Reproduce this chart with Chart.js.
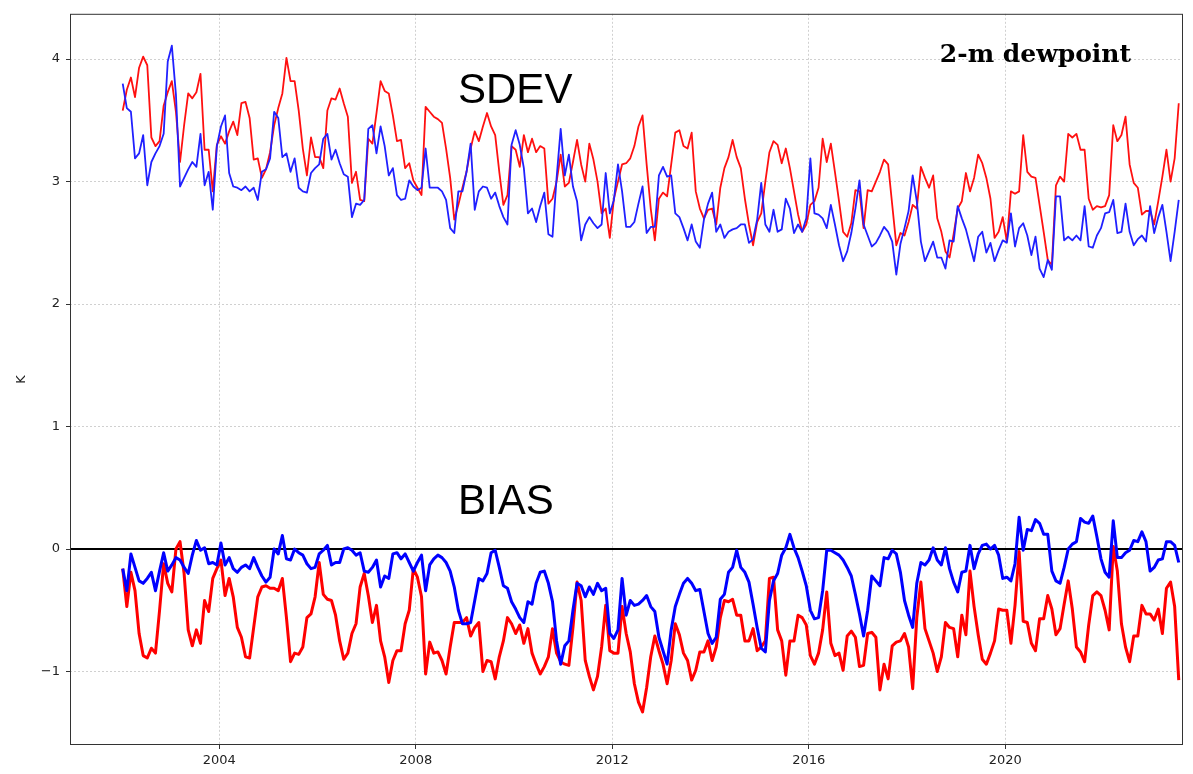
<!DOCTYPE html>
<html lang="en">
<head>
    <meta charset="UTF-8">
    <title>2-m dewpoint SDEV / BIAS</title>
    <script src="https://cdn.jsdelivr.net/npm/chart.js"></script>
    <style>
        body {
            margin: 0;
            background-color: white;
        }
        #chart {
            display: block;
        }
    </style>
</head>
<body>
    <canvas id="chart" width="1193" height="774"></canvas>

    <script>
        // monthly values, first point Jan 2002
        const startYear = 2002;
        const xTicks = [2004, 2008, 2012, 2016, 2020];
        const yTicks = [-1, 0, 1, 2, 3, 4];

        const sdevRed = [
            3.58, 3.75, 3.85, 3.69, 3.93, 4.02, 3.95, 3.36, 3.29, 3.33, 3.62, 3.73,
            3.82, 3.57, 3.16, 3.46, 3.72, 3.68, 3.73, 3.88, 3.26, 3.26, 2.92, 3.30,
            3.37, 3.31, 3.41, 3.49, 3.38, 3.64, 3.65, 3.52, 3.18, 3.19, 3.03, 3.10,
            3.24, 3.46, 3.60, 3.72, 4.01, 3.82, 3.82, 3.58, 3.27, 3.05, 3.36, 3.20,
            3.20, 3.11, 3.58, 3.68, 3.67, 3.76, 3.64, 3.53, 2.99, 3.08, 2.85, 2.84,
            3.35, 3.31, 3.56, 3.82, 3.74, 3.72, 3.54, 3.33, 3.34, 3.11, 3.15, 3.01,
            2.95, 2.89, 3.61, 3.57, 3.53, 3.51, 3.48, 3.27, 3.03, 2.69, 2.81, 2.95,
            3.08, 3.27, 3.41, 3.33, 3.45, 3.56, 3.45, 3.38, 3.08, 2.81, 2.89, 3.29,
            3.26, 3.12, 3.38, 3.24, 3.35, 3.24, 3.29, 3.27, 2.82, 2.86, 3.00, 3.22,
            2.96, 2.99, 3.16, 3.34, 3.14, 3.00, 3.31, 3.18, 3.00, 2.74, 2.78, 2.54,
            2.86, 3.00, 3.14, 3.15, 3.19, 3.29, 3.45, 3.54, 3.14, 2.78, 2.52, 2.86,
            2.91, 2.88, 3.14, 3.40, 3.42, 3.29, 3.27, 3.40, 2.92, 2.78, 2.70, 2.77,
            2.78, 2.65, 2.95, 3.11, 3.20, 3.34, 3.20, 3.11, 2.86, 2.65, 2.48, 2.67,
            2.74, 3.00, 3.24, 3.33, 3.30, 3.15, 3.27, 3.11, 2.92, 2.73, 2.59, 2.65,
            2.81, 2.84, 2.95, 3.35, 3.16, 3.31, 3.08, 2.84, 2.59, 2.55, 2.66, 2.93,
            2.92, 2.62, 2.93, 2.92, 3.00, 3.08, 3.18, 3.14, 2.81, 2.48, 2.58, 2.56,
            2.67, 2.81, 2.78, 3.12, 3.03, 2.95, 3.05, 2.70, 2.59, 2.43, 2.38, 2.57,
            2.78, 2.84, 3.07, 2.92, 3.03, 3.22, 3.15, 3.03, 2.86, 2.54, 2.59, 2.71,
            2.51, 2.92, 2.90, 2.92, 3.38, 3.08, 3.04, 3.03, 2.81, 2.59, 2.36, 2.32,
            2.97, 3.04, 3.00, 3.39, 3.36, 3.39, 3.26, 3.26, 2.86, 2.77, 2.80, 2.79,
            2.80, 2.89, 3.46, 3.33, 3.38, 3.53, 3.14, 2.99, 2.95, 2.73, 2.76, 2.76,
            2.65, 2.84, 3.04, 3.26, 3.00, 3.19, 3.64
        ];

        const sdevBlue = [
            3.80, 3.60, 3.57, 3.19, 3.23, 3.38, 2.97, 3.16, 3.23, 3.29, 3.39, 3.98,
            4.11, 3.71, 2.96, 3.03, 3.10, 3.16, 3.12, 3.39, 2.97, 3.08, 2.77, 3.29,
            3.45, 3.54, 3.07, 2.96, 2.95, 2.93, 2.96, 2.92, 2.95, 2.85, 3.08, 3.10,
            3.19, 3.57, 3.52, 3.20, 3.23, 3.08, 3.19, 2.95, 2.92, 2.91, 3.07, 3.11,
            3.14, 3.35, 3.39, 3.18, 3.26, 3.15, 3.06, 3.04, 2.71, 2.82, 2.81, 2.85,
            3.43, 3.46, 3.23, 3.45, 3.29, 3.05, 3.11, 2.89, 2.85, 2.86, 3.01, 2.96,
            2.93, 2.95, 3.27, 2.95, 2.95, 2.95, 2.92, 2.85, 2.62, 2.58, 2.92, 2.92,
            3.08, 3.31, 2.77, 2.92, 2.96, 2.95, 2.86, 2.91, 2.80, 2.71, 2.65, 3.30,
            3.42, 3.30, 3.11, 2.74, 2.78, 2.67, 2.80, 2.91, 2.57, 2.55, 3.03, 3.43,
            3.05, 3.22, 2.96, 2.84, 2.52, 2.65, 2.71, 2.66, 2.62, 2.65, 3.07, 2.74,
            2.85, 3.14, 2.92, 2.63, 2.63, 2.67, 2.82, 2.96, 2.58, 2.63, 2.63, 3.05,
            3.12, 3.04, 3.05, 2.74, 2.71, 2.62, 2.52, 2.65, 2.51, 2.46, 2.69, 2.82,
            2.91, 2.59, 2.65, 2.54, 2.59, 2.61, 2.62, 2.65, 2.65, 2.50, 2.53, 2.69,
            2.99, 2.65, 2.59, 2.77, 2.59, 2.61, 2.86, 2.78, 2.58, 2.65, 2.59, 2.70,
            3.19, 2.74, 2.73, 2.70, 2.62, 2.81, 2.65, 2.48, 2.35, 2.43, 2.58, 2.78,
            3.01, 2.65, 2.56, 2.47, 2.50, 2.56, 2.63, 2.59, 2.51, 2.24, 2.49, 2.62,
            2.76, 3.05, 2.84, 2.51, 2.35, 2.43, 2.51, 2.38, 2.38, 2.29, 2.52, 2.51,
            2.80, 2.70, 2.61, 2.48, 2.35, 2.55, 2.59, 2.42, 2.50, 2.35, 2.44, 2.52,
            2.50, 2.74, 2.47, 2.62, 2.66, 2.56, 2.40, 2.55, 2.29, 2.22, 2.36, 2.28,
            2.88, 2.88, 2.52, 2.55, 2.52, 2.56, 2.52, 2.80, 2.47, 2.46, 2.56, 2.62,
            2.74, 2.75, 2.85, 2.58, 2.59, 2.82, 2.59, 2.48, 2.53, 2.56, 2.51, 2.80,
            2.58, 2.71, 2.81, 2.59, 2.35, 2.59, 2.85
        ];

        const biasRed = [
            -0.16, -0.47, -0.19, -0.34, -0.69, -0.87, -0.89, -0.81, -0.85, -0.50, -0.12, -0.28,
            -0.35, 0.00, 0.06, -0.20, -0.66, -0.79, -0.66, -0.77, -0.42, -0.51, -0.24, -0.16,
            -0.09, -0.38, -0.24, -0.39, -0.64, -0.72, -0.88, -0.89, -0.64, -0.39, -0.31, -0.30,
            -0.32, -0.32, -0.34, -0.24, -0.56, -0.92, -0.85, -0.86, -0.80, -0.56, -0.53, -0.39,
            -0.11, -0.37, -0.41, -0.42, -0.54, -0.75, -0.90, -0.85, -0.69, -0.61, -0.31, -0.20,
            -0.38, -0.60, -0.46, -0.75, -0.88, -1.09, -0.91, -0.83, -0.83, -0.61, -0.50, -0.16,
            -0.23, -0.39, -1.02, -0.76, -0.85, -0.84, -0.91, -1.02, -0.80, -0.60, -0.60, -0.60,
            -0.56, -0.71, -0.64, -0.60, -1.00, -0.91, -0.92, -1.06, -0.88, -0.75, -0.56, -0.61,
            -0.69, -0.62, -0.77, -0.65, -0.85, -0.94, -1.02, -0.96, -0.88, -0.65, -0.85, -0.92,
            -0.94, -0.95, -0.64, -0.27, -0.42, -0.91, -1.04, -1.15, -1.04, -0.80, -0.46, -0.83,
            -0.85, -0.85, -0.47, -0.69, -0.84, -1.10, -1.25, -1.33, -1.13, -0.88, -0.71, -0.83,
            -0.94, -1.10, -0.91, -0.61, -0.70, -0.85, -0.91, -1.07, -0.99, -0.84, -0.84, -0.75,
            -0.91, -0.80, -0.56, -0.42, -0.43, -0.41, -0.54, -0.54, -0.75, -0.75, -0.65, -0.83,
            -0.80, -0.75, -0.24, -0.23, -0.66, -0.75, -1.03, -0.75, -0.75, -0.54, -0.56, -0.62,
            -0.87, -0.94, -0.85, -0.66, -0.35, -0.77, -0.87, -0.85, -0.99, -0.71, -0.67, -0.72,
            -0.96, -0.95, -0.69, -0.68, -0.72, -1.15, -0.94, -1.06, -0.79, -0.76, -0.75, -0.69,
            -0.80, -1.14, -0.56, -0.27, -0.65, -0.75, -0.85, -1.00, -0.88, -0.60, -0.64, -0.65,
            -0.88, -0.54, -0.70, -0.18, -0.47, -0.70, -0.90, -0.94, -0.85, -0.75, -0.49, -0.50,
            -0.50, -0.77, -0.46, -0.02, -0.59, -0.60, -0.77, -0.83, -0.57, -0.57, -0.38, -0.49,
            -0.70, -0.65, -0.45, -0.26, -0.49, -0.80, -0.84, -0.92, -0.62, -0.38, -0.35, -0.38,
            -0.50, -0.66, 0.02, -0.18, -0.61, -0.80, -0.92, -0.71, -0.71, -0.46, -0.53, -0.53,
            -0.58, -0.49, -0.69, -0.32, -0.27, -0.47, -1.07
        ];

        const biasBlue = [
            -0.16, -0.34, -0.04, -0.15, -0.26, -0.28, -0.24, -0.19, -0.34, -0.18, -0.03, -0.18,
            -0.13, -0.07, -0.09, -0.15, -0.20, -0.05, 0.07, -0.01, 0.01, -0.12, -0.11, -0.13,
            0.05, -0.13, -0.07, -0.16, -0.19, -0.15, -0.13, -0.16, -0.07, -0.15, -0.22, -0.27,
            -0.23, 0.00, -0.04, 0.11, -0.08, -0.09, 0.00, -0.03, -0.05, -0.12, -0.16, -0.15,
            -0.04, -0.01, 0.03, -0.13, -0.11, -0.11, 0.00, 0.01, -0.01, -0.05, -0.03, -0.18,
            -0.19, -0.15, -0.09, -0.31, -0.22, -0.24, -0.04, -0.03, -0.08, -0.04, -0.11, -0.18,
            -0.11, -0.05, -0.34, -0.13, -0.08, -0.05, -0.07, -0.11, -0.18, -0.31, -0.50, -0.61,
            -0.61, -0.60, -0.42, -0.24, -0.26, -0.20, -0.03, -0.01, -0.15, -0.30, -0.32, -0.43,
            -0.49, -0.56, -0.60, -0.43, -0.45, -0.28, -0.19, -0.18, -0.28, -0.43, -0.75, -0.94,
            -0.79, -0.75, -0.50, -0.28, -0.30, -0.39, -0.31, -0.37, -0.28, -0.34, -0.32, -0.69,
            -0.73, -0.66, -0.24, -0.54, -0.42, -0.46, -0.45, -0.42, -0.38, -0.47, -0.51, -0.72,
            -0.83, -0.94, -0.66, -0.47, -0.37, -0.28, -0.24, -0.28, -0.34, -0.33, -0.51, -0.69,
            -0.77, -0.72, -0.41, -0.37, -0.19, -0.15, -0.01, -0.15, -0.19, -0.27, -0.45, -0.64,
            -0.81, -0.84, -0.42, -0.26, -0.20, -0.05, 0.01, 0.12, 0.01, -0.07, -0.18, -0.30,
            -0.50, -0.57, -0.56, -0.34, -0.01, -0.01, -0.03, -0.05, -0.09, -0.15, -0.22, -0.37,
            -0.53, -0.71, -0.50, -0.22, -0.26, -0.30, -0.07, -0.08, -0.01, -0.04, -0.19, -0.42,
            -0.54, -0.64, -0.28, -0.11, -0.13, -0.09, 0.01, -0.09, -0.13, 0.01, -0.16, -0.27,
            -0.35, -0.19, -0.18, 0.03, -0.16, -0.04, 0.03, 0.04, 0.00, 0.03, -0.05, -0.24,
            -0.23, -0.26, -0.12, 0.26, -0.01, 0.16, 0.15, 0.24, 0.21, 0.12, 0.12, -0.18,
            -0.26, -0.28, -0.15, 0.00, 0.04, 0.06, 0.25, 0.22, 0.21, 0.27, 0.10, -0.08,
            -0.19, -0.23, 0.23, -0.07, -0.07, -0.03, -0.01, 0.07, 0.06, 0.14, 0.06, -0.18,
            -0.15, -0.09, -0.08, 0.06, 0.06, 0.03, -0.11
        ];

        function toPoints(values) {
            return values.map((v, i) => ({ x: startYear + (i + 0.4) / 12, y: v }));
        }

        function minusLabel(v) {
            return v < 0 ? '\u2212' + Math.abs(v) : String(v);
        }

        // zero line, frame and the text annotations
        const decorations = {
            id: 'decorations',
            beforeDatasetsDraw(chart) {
                const { ctx, chartArea, scales } = chart;
                const y0 = scales.y.getPixelForValue(0);
                ctx.save();
                ctx.strokeStyle = '#000';
                ctx.lineWidth = 2;
                ctx.beginPath();
                ctx.moveTo(chartArea.left, y0);
                ctx.lineTo(chartArea.right, y0);
                ctx.stroke();
                ctx.restore();
            },
            afterDatasetsDraw(chart) {
                const { ctx, chartArea, scales } = chart;
                ctx.save();
                ctx.strokeStyle = '#333';
                ctx.lineWidth = 1;
                ctx.strokeRect(chartArea.left + 0.5, chartArea.top + 0.5,
                    chartArea.right - chartArea.left - 1, chartArea.bottom - chartArea.top - 1);

                ctx.fillStyle = '#000';
                ctx.textBaseline = 'alphabetic';
                ctx.textAlign = 'left';
                ctx.font = '42px "Liberation Sans", Arial, sans-serif';
                ctx.fillText('SDEV', scales.x.getPixelForValue(2008.86), scales.y.getPixelForValue(3.645));
                ctx.fillText('BIAS', scales.x.getPixelForValue(2008.86), scales.y.getPixelForValue(0.29));
                ctx.font = 'bold 25px "DejaVu Serif", serif';
                ctx.fillText('2-m dewpoint', scales.x.getPixelForValue(2018.67), scales.y.getPixelForValue(3.98));
                ctx.restore();
            }
        };

        new Chart(document.getElementById('chart'), {
            type: 'line',
            data: {
                datasets: [
                    { label: 'SDEV red', data: toPoints(sdevRed), borderColor: '#ff1010', borderWidth: 1.8, order: 2 },
                    { label: 'SDEV blue', data: toPoints(sdevBlue), borderColor: '#2020ff', borderWidth: 1.8, order: 1 },
                    { label: 'BIAS red', data: toPoints(biasRed), borderColor: '#ff0000', borderWidth: 3, order: 2 },
                    { label: 'BIAS blue', data: toPoints(biasBlue), borderColor: '#0000ff', borderWidth: 3, order: 1 }
                ]
            },
            options: {
                responsive: false,
                animation: false,
                parsing: false,
                elements: {
                    point: { radius: 0 },
                    line: { tension: 0, borderJoinStyle: 'round' }
                },
                layout: {
                    padding: { left: 0, right: 10, top: 12, bottom: 0 }
                },
                plugins: {
                    legend: { display: false },
                    tooltip: { enabled: false }
                },
                scales: {
                    x: {
                        type: 'linear',
                        min: 2000.96,
                        max: 2023.62,
                        afterBuildTicks: scale => { scale.ticks = xTicks.map(v => ({ value: v })); },
                        afterFit: scale => { scale.height = 29; },
                        grid: { color: '#d0d0d0', tickColor: '#333', tickLength: 4 },
                        border: { display: false, dash: [2, 2] },
                        ticks: {
                            color: '#222',
                            padding: 4,
                            maxRotation: 0,
                            font: { family: '"DejaVu Sans", sans-serif', size: 13 },
                            callback: v => String(v)
                        }
                    },
                    y: {
                        min: -1.6,
                        max: 4.37,
                        afterBuildTicks: scale => { scale.ticks = yTicks.map(v => ({ value: v })); },
                        afterFit: scale => { scale.width = 70; },
                        grid: { color: '#d0d0d0', tickColor: '#333', tickLength: 4 },
                        border: { display: false, dash: [2, 2] },
                        title: {
                            display: true,
                            text: 'K',
                            color: '#222',
                            padding: { top: 14, bottom: 0 },
                            font: { family: '"DejaVu Sans", sans-serif', size: 13 }
                        },
                        ticks: {
                            color: '#222',
                            padding: 6,
                            font: { family: '"DejaVu Sans", sans-serif', size: 13 },
                            callback: v => minusLabel(v)
                        }
                    }
                }
            },
            plugins: [decorations]
        });
    </script>
</body>
</html>
